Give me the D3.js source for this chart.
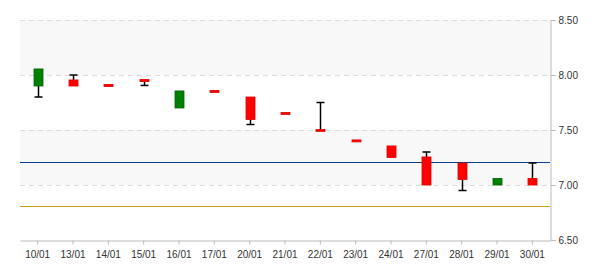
<!DOCTYPE html>
<html>
<head>
<meta charset="utf-8">
<script src="https://cdn.jsdelivr.net/npm/d3@7"></script>
<style>
  body { margin: 0; background: #fff; }
  text { font-family: "Liberation Sans", Arial, sans-serif; font-size: 10px; fill: #333; }
</style>
</head>
<body>
<svg id="chart" width="600" height="270"></svg>
<script>
// candle data
const dates = ["10/01", "13/01", "14/01", "15/01", "16/01", "17/01", "20/01", "21/01",
               "22/01", "23/01", "24/01", "27/01", "28/01", "29/01", "30/01"];
const opens  = [7.90, 7.955, 7.915, 7.96, 7.70, 7.86, 7.80, 7.66, 7.505, 7.41, 7.355, 7.255, 7.20, 7.00, 7.06];
const closes = [8.055, 7.90, 7.895, 7.94, 7.855, 7.845, 7.595, 7.645, 7.50, 7.395, 7.25, 7.00, 7.05, 7.06, 7.00];
const highs  = [8.055, 8.00, 7.915, 7.96, 7.855, 7.86, 7.80, 7.66, 7.75, 7.41, 7.355, 7.30, 7.20, 7.06, 7.20];
const lows   = [7.80, 7.90, 7.895, 7.905, 7.70, 7.845, 7.55, 7.645, 7.50, 7.395, 7.25, 7.00, 6.95, 7.00, 7.00];
const yTicks = [6.5, 7.0, 7.5, 8.0, 8.5];
const refLines = [{value: 7.21, color: "#0b3d8e"}, {value: 6.81, color: "#c9a012"}];

const candles = dates.map((d, i) => ({
    date: d, open: opens[i], close: closes[i], high: highs[i], low: lows[i]
}));

const svg = d3.select("#chart");
const plot = {left: 20, right: 550, top: 20, bottom: 240};

const x = d3.scaleBand().domain(dates).range([plot.left, plot.right]);
const y = d3.scaleLinear().domain([6.5, 8.5]).range([plot.bottom, plot.top]);

// alternating bands
const bands = [[7.0, 7.5], [8.0, 8.5]];
svg.selectAll("rect.band")
    .data(bands)
    .enter()
        .append("rect")
        .attr("class", "band")
        .attr("x", plot.left)
        .attr("width", plot.right - plot.left)
        .attr("y", d => y(d[1]))
        .attr("height", d => y(d[0]) - y(d[1]))
        .style("fill", "#f8f8f8");

// dashed grid
svg.selectAll("line.grid")
    .data(yTicks.slice(1))
    .enter()
        .append("line")
        .attr("class", "grid")
        .attr("x1", plot.left).attr("x2", plot.right)
        .attr("y1", d => Math.round(y(d)) + 0.5)
        .attr("y2", d => Math.round(y(d)) + 0.5)
        .style("stroke", "#ddd")
        .style("stroke-dasharray", "5,4");

// reference lines
svg.selectAll("line.ref")
    .data(refLines)
    .enter()
        .append("line")
        .attr("class", "ref")
        .attr("x1", plot.left).attr("x2", plot.right)
        .attr("y1", d => Math.round(y(d.value)) + 0.5)
        .attr("y2", d => Math.round(y(d.value)) + 0.5)
        .style("stroke", d => d.color)
        .style("stroke-width", 1.2);

// axes
const yAxis = d3.axisRight(y)
    .tickValues(yTicks)
    .tickFormat(d3.format(".2f"))
    .tickSize(5)
    .tickPadding(3);

svg.append("g")
    .attr("class", "yAxis")
    .attr("transform", `translate(${plot.right + 0.5}, 0)`)
    .call(yAxis);

const xAxis = d3.axisBottom(x)
    .tickSize(4)
    .tickPadding(6)
    .tickSizeOuter(0);

svg.append("g")
    .attr("class", "xAxis")
    .attr("transform", `translate(0, ${plot.bottom + 0.5})`)
    .call(xAxis);

svg.selectAll("g.yAxis path, g.xAxis path").style("stroke", "#bbb");
svg.selectAll("g.yAxis line, g.xAxis line").style("stroke", "#bbb");
svg.selectAll("g.yAxis text, g.xAxis text").style("fill", "#333").attr("font-size", 10);

// candles
const bw = 9, capW = 8;
const groups = svg.selectAll("g.candle")
    .data(candles)
    .enter()
        .append("g")
        .attr("class", "candle");

const cx = d => Math.round(x(d.date) + x.bandwidth() / 2);

// upper wick
groups.filter(d => d.high > Math.max(d.open, d.close) + 0.001)
    .each(function(d) {
        const g = d3.select(this);
        const bodyTop = y(Math.max(d.open, d.close));
        g.append("line")
            .attr("x1", cx(d) + 0.5).attr("x2", cx(d) + 0.5)
            .attr("y1", y(d.high)).attr("y2", bodyTop)
            .style("stroke", "#000").style("stroke-width", 1.5);
        g.append("line")
            .attr("x1", cx(d) - capW / 2 + 0.5).attr("x2", cx(d) + capW / 2 + 0.5)
            .attr("y1", y(d.high)).attr("y2", y(d.high))
            .style("stroke", "#000").style("stroke-width", 1.5);
    });

// lower wick
groups.filter(d => d.low < Math.min(d.open, d.close) - 0.001)
    .each(function(d) {
        const g = d3.select(this);
        const bodyBot = y(Math.min(d.open, d.close));
        g.append("line")
            .attr("x1", cx(d) + 0.5).attr("x2", cx(d) + 0.5)
            .attr("y1", bodyBot).attr("y2", y(d.low))
            .style("stroke", "#000").style("stroke-width", 1.5);
        g.append("line")
            .attr("x1", cx(d) - capW / 2 + 0.5).attr("x2", cx(d) + capW / 2 + 0.5)
            .attr("y1", y(d.low)).attr("y2", y(d.low))
            .style("stroke", "#000").style("stroke-width", 1.5);
    });

// bodies
groups.append("rect")
    .attr("x", d => cx(d) - bw / 2 + 0.5)
    .attr("y", d => y(Math.max(d.open, d.close)))
    .attr("width", bw)
    .attr("height", d => Math.max(2, Math.abs(y(d.open) - y(d.close))))
    .style("fill", d => d.close > d.open ? "#008000" : "#ff0000")
    .style("stroke", d => d.close > d.open ? "#006400" : "#e00000")
    .style("stroke-width", 0.8);
</script>
</body>
</html>
